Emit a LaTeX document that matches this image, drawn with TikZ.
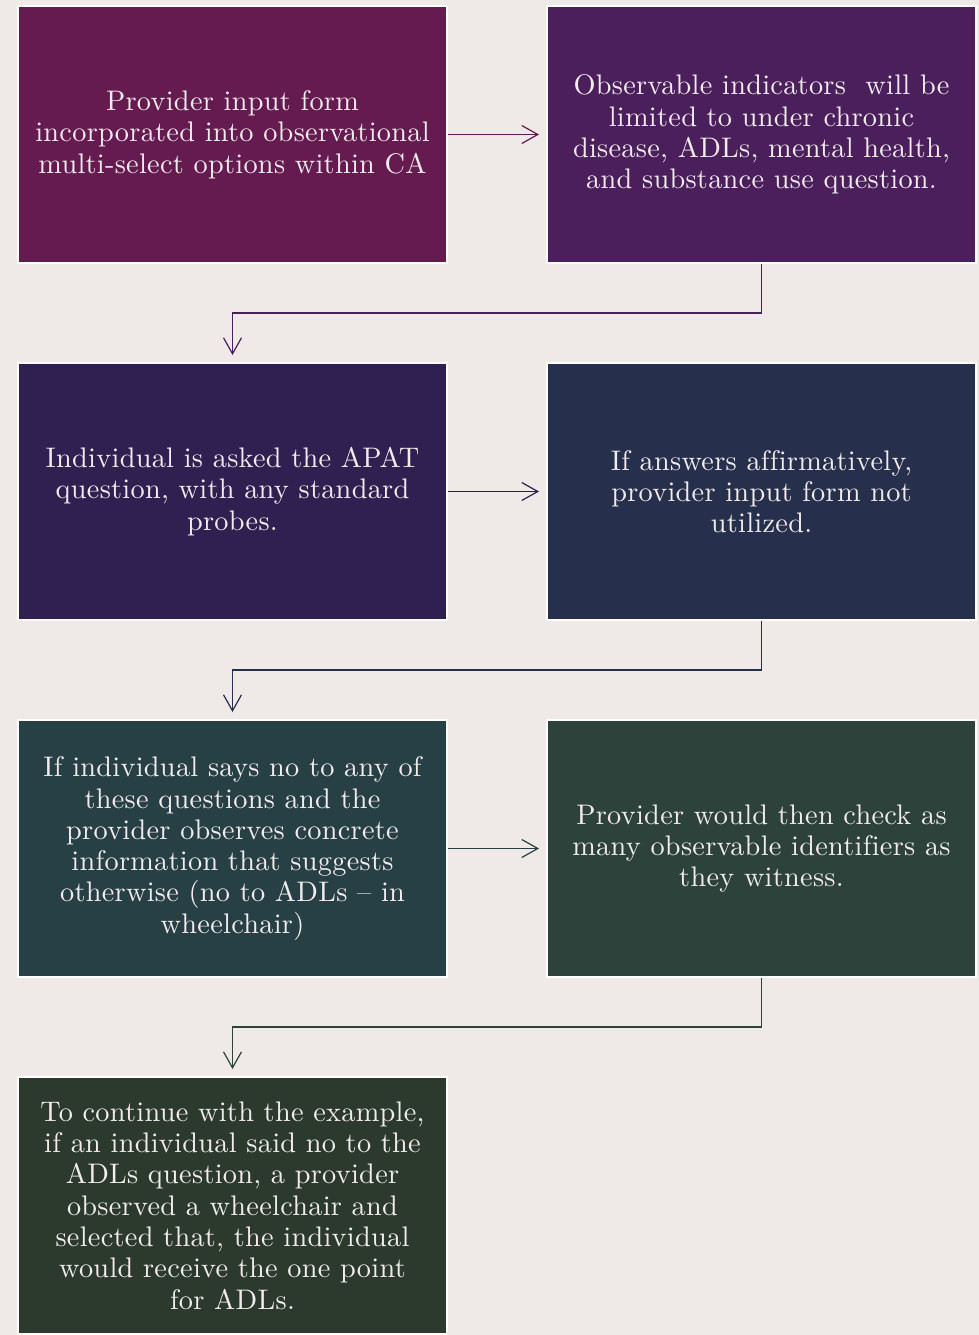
\documentclass[tikz,border=0pt]{standalone}
\usepackage{fontspec}
\usepackage{xcolor}
\usetikzlibrary{arrows.meta,positioning}

\setmainfont{lmroman10-regular.otf}[LetterSpace=1.0, Ligatures=NoCommon]

\definecolor{paper}{HTML}{EFEAE7}
\definecolor{boxtext}{HTML}{F2EBEE}
\definecolor{plum}{HTML}{651B4F}
\definecolor{grape}{HTML}{4B1F5B}
\definecolor{indigo}{HTML}{2F2051}
\definecolor{navy}{HTML}{26304D}
\definecolor{slate}{HTML}{264045}
\definecolor{pine}{HTML}{2C423A}
\definecolor{moss}{HTML}{2C3A2D}

\begin{document}
\begin{tikzpicture}[
    node distance=100pt,
    box/.style={rectangle, draw=white, line width=2pt, outer sep=0pt, inner sep=0pt, minimum width=429pt, minimum height=257pt, align=center, text=boxtext, font=\fontsize{28.3}{31.3}\selectfont},
    arrow/.style={-{Straight Barb[length=16pt,width=18pt]}, line width=1.2pt, shorten >=8pt, shorten <=1pt}
]
\fill[paper] (0,0) rectangle (979pt,-1335pt);

\node[box, fill=plum] (input) at (232.5pt,-134.5pt) {Provider input form\\incorporated into observational\\multi-select options within CA};
\node[box, fill=grape, right=of input] (limits) {Observable indicators~ will be\\limited to under chronic\\disease, ADLs, mental health,\\and substance use question.};
\node[box, fill=indigo, below=of input] (apat) {Individual is asked the APAT\\question, with any standard\\probes.};
\node[box, fill=navy, right=of apat] (affirm) {If answers affirmatively,\\provider input form not\\utilized.};
\node[box, fill=slate, below=of apat] (saysno) {If individual says no to any of\\these questions and the\\provider observes concrete\\information that suggests\\otherwise (no to ADLs -- in\\wheelchair)};
\node[box, fill=pine, right=of saysno] (check) {Provider would then check as\\many observable identifiers as\\they witness.};
\node[box, fill=moss, below=of saysno] (point) {To continue with the example,\\if an individual said no to the\\ADLs question, a provider\\observed a wheelchair and\\selected that, the individual\\would receive the one point\\for ADLs.};

\draw[arrow, plum] (input) -- (limits);
\draw[arrow, grape] (limits.south) -- ++(0,-50pt) -| (apat.north);
\draw[arrow, indigo] (apat) -- (affirm);
\draw[arrow, navy] (affirm.south) -- ++(0,-50pt) -| (saysno.north);
\draw[arrow, slate] (saysno) -- (check);
\draw[arrow, pine] (check.south) -- ++(0,-50pt) -| (point.north);
\end{tikzpicture}
\end{document}
